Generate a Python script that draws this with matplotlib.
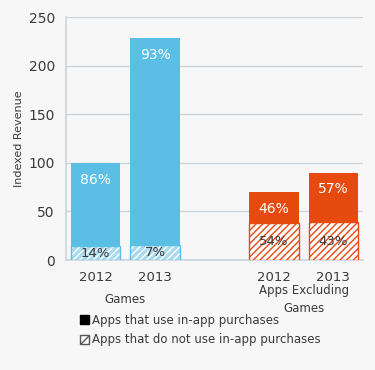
import matplotlib.pyplot as plt
from matplotlib.patches import Patch
from matplotlib.transforms import blended_transform_factory

# data
years = ["2012", "2013", "2012", "2013"]
positions = [0, 1, 3, 4]
groups = ["Games", "Apps Excluding\nGames"]
group_centers = [0.5, 3.5]
totals = [100, 228, 70, 90]
iap_share = [86, 93, 46, 57]      # % of revenue from apps that use in-app purchases
no_iap_share = [14, 7, 54, 43]    # % from apps that do not
legend_labels = ["Apps that use in-app purchases",
                 "Apps that do not use in-app purchases"]

blue = "#5bbfe5"
blue_light = "#a8dbef"
orange = "#e64a0e"
text_col = "#3a3a3a"
grid_col = "#cdd4de"
bg = "#f7f7f7"

plt.rcParams['font.family'] = ['DejaVu Sans']

fig = plt.figure(figsize=(3.75, 3.70), dpi=100, facecolor=bg)
ax = fig.add_axes([0.176, 0.297, 0.792, 0.657], facecolor=bg)

width = 0.83
for i, x in enumerate(positions):
    total = totals[i]
    low = total * no_iap_share[i] / 100.0
    if i < 2:
        top_col, hatch_face, hatch_col = blue, blue_light, "white"
    else:
        top_col, hatch_face, hatch_col = orange, "white", orange
    # hatched part (apps without in-app purchases)
    ax.bar(x, low, width, color=hatch_face, edgecolor=hatch_col,
           hatch="/////", linewidth=0, zorder=3)
    ax.bar(x, low, width, fill=False, edgecolor=top_col, linewidth=1, zorder=4)
    # solid part (apps with in-app purchases)
    ax.bar(x, total - low, width, bottom=low, color=top_col,
           linewidth=0, zorder=3)
    ax.annotate(f"{iap_share[i]}%", (x, total), xytext=(0, -7),
                textcoords="offset points", ha="center", va="top",
                color="white", fontsize=10, zorder=5)
    ax.text(x, low / 2.0, f"{no_iap_share[i]}%", ha="center", va="center",
            color=text_col, fontsize=9.5, zorder=5)

ax.set_xlim(-0.5, 4.5)
ax.set_ylim(0, 250)
ax.set_yticks(range(0, 251, 50))
ax.set_xticks(positions)
ax.set_xticklabels(years)
ax.tick_params(length=0, colors=text_col, labelsize=10)
ax.tick_params(axis="x", pad=8, labelsize=9.5)
ax.tick_params(axis="y", pad=8)
ax.yaxis.grid(True, color=grid_col, linewidth=1)
ax.set_axisbelow(True)
for s in ["top", "right"]:
    ax.spines[s].set_visible(False)
for s in ["left", "bottom"]:
    ax.spines[s].set_color(grid_col)
    ax.spines[s].set_linewidth(1.2)
ax.set_ylabel("Indexed Revenue", color=text_col, fontsize=8, labelpad=3)

trans = blended_transform_factory(ax.transData, ax.transAxes)
for gx, g in zip(group_centers, groups):
    ax.text(gx, -0.163, g, transform=trans, ha="center", va="center",
            color=text_col, fontsize=8.5, linespacing=1.55)

handles = [Patch(facecolor="black", edgecolor="black"),
           Patch(facecolor="white", edgecolor="#555555", hatch="////")]
fig.legend(handles, legend_labels, loc="upper left",
           bbox_to_anchor=(0.2, 0.165), frameon=False, fontsize=8.5,
           handlelength=0.8, handleheight=0.8, handletextpad=0.2,
           labelspacing=0.55, borderaxespad=0, labelcolor=text_col)

plt.savefig("out.png", dpi=100, facecolor=bg)
